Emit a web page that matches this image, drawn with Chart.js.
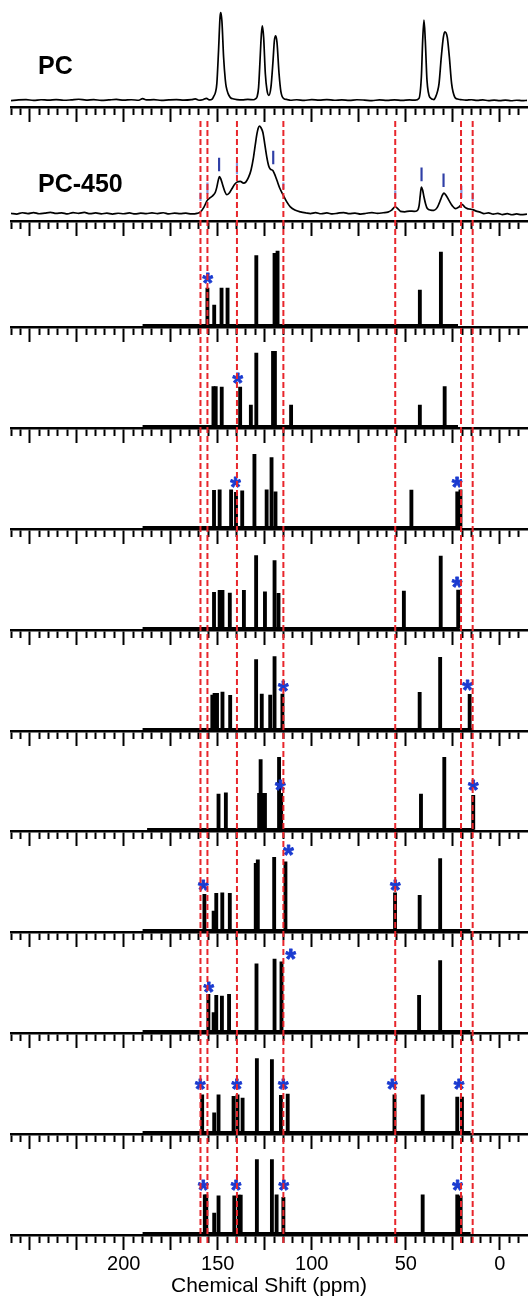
<!DOCTYPE html>
<html><head><meta charset="utf-8">
<script src="https://cdn.jsdelivr.net/npm/chart.js"></script>
<style>
html,body{margin:0;padding:0;background:#fff;}
#wrap{position:relative;width:530px;height:1299px;overflow:hidden;background:#fff;}
.panel{position:absolute;left:0;width:530px;}
.lbl{position:absolute;left:38px;font:bold 25px "Liberation Sans", Arial, sans-serif;line-height:25px;color:#000;white-space:nowrap;}
</style></head><body><div id="wrap"></div>
<script>
// ---------------- data ----------------
const ppmMin = -14.5, ppmMax = 260;
const minorStep = 5, majorStep = 25;
const tickLabels = [200, 150, 100, 50, 0];
const axisTitle = 'Chemical Shift (ppm)';
const panelNames = ['PC', 'PC-450'];

const pcPpm = [260,256,252,248,244,240,236,232,228,224,220,216,212,208,204,200,196,192,190,188,184,180,176,172,168,164,162,160,158,156,154.5,153,152.3,151.2,150.5,149.6,148.8,148.4,147.8,146.9,146,145.5,144.5,143.3,141.5,139.8,137,134,131,129.8,129.1,128.3,127.7,126.8,126.3,125.6,124.7,123.8,122.8,121.7,120.6,119.9,119.2,118.5,117.4,116.4,114.9,113,111.4,108,104,100,96,92,88,84,80,76,72,68,64,60,56,52,48,45,43,41.7,41,40.3,39.6,38.7,37.1,35,34.1,33,32.3,31.1,30,29.2,27.9,26.8,25.6,24,22.5,20.8,18,15,12,9,6,3,0,-3,-6,-9,-12,-14.5];
const pcInt = [7.0,7.6,7.9,7.2,7.8,7.4,8.0,7.3,7.7,8.3,7.5,7.9,7.2,7.6,8.1,7.4,7.8,7.3,9.0,7.6,7.9,7.2,7.7,8.0,7.4,7.9,8.6,7.3,7.8,9.2,7.6,8.5,10.7,15.5,24,57,91,95.7,87,50.7,28,20.7,14,10,8.6,8,7.6,8.1,7.8,9,10.7,20,40.7,74,82.3,70.7,34,17.3,12.3,20.7,47.3,67.3,72.3,65.7,34,15.7,9,8,7.3,7.8,7.2,7.9,7.4,8.0,7.3,7.7,7.2,7.8,7.5,7.0,7.6,7.2,7.7,7.1,7.6,7.4,9,30.7,67.3,88,67.3,27.3,10,8,10.7,17,24,50.7,70.7,76.3,70.7,50.7,24,10.7,8.5,8,7.4,7.8,7.2,7.6,7.0,7.5,6.9,7.4,6.8,7.3,6.9,7.2];

const pc450Ppm = [260,257,254,251,248,245,242,239,236,233,230,227,224,221,218,215,212,209,206,203,200,197,194,191,188,185,182,179,176,173,170,167,164,161,159.2,157.5,155.6,154,152.5,151.3,150.5,149.7,149.1,148.3,147.3,146.2,145.2,144,142.5,141,139.8,138,136.3,135,133.6,132.3,131,130,129.2,128.5,127.8,127,126,125,123.9,122.9,122.1,120.7,119.5,118.5,117,115.1,113.2,111.4,109,106,103,100.7,98,95,92,89,86,83,80,77,74,71,68,65,62,59.5,57.5,55.6,54,52.8,50.5,48,45.5,43.9,42.9,42.3,41.7,41.0,40.3,39.4,38.5,36.8,35,33.3,32.2,31.4,30.5,29.7,28.6,27,25.3,23.5,21.8,20.1,18.6,17.2,15.8,14.4,12.5,10.5,8.4,6,3.5,1,-1.5,-4,-6.5,-9,-11.5,-14.5];
const pc450Int = [8.3,7.5,8.8,8.0,9.0,7.8,8.5,9.2,8.1,8.7,7.6,8.9,8.2,9.1,7.9,8.6,7.7,8.4,7.5,8.3,7.8,8.6,7.6,8.4,7.9,8.7,8.0,8.8,7.7,8.5,7.9,8.4,7.6,8.2,9.7,14,21.3,24,26.3,29.5,34.7,42,45.3,42.5,36.3,30,27,28.5,33,37.5,39.7,40.5,38.7,40,44.7,52,64.7,78,88,94,96.3,94.5,89.7,78,64.7,56,53,51.3,46.5,41.3,33.5,26.3,19.5,14.7,11.5,9.7,8.6,8.0,8.9,7.8,8.6,7.6,8.4,9.0,7.9,8.5,7.5,8.3,9.0,8.2,8.8,9.4,11.5,14.7,12.5,10.2,9.8,10.5,10.3,11,16,26,34.7,31.5,24.7,17.5,13,11.5,11.3,14,18.5,22.3,26.5,28.7,26.5,21.3,16,13,14.5,17.3,14.5,13,12.5,12,10.5,9.5,8.0,8.7,7.4,8.2,7.0,7.9,6.8,7.6,6.9,7.5];

// peak markers on PC-450
const markPpm = [149.3, 120.5, 41.6, 29.9];
const markLow = [51, 58, 41, 35];
const markHigh = [64, 71, 54, 48];
const faintPpm = [159.2, 155.5, 139.8, 115.1, 55.6, 20.4, 14.4];
const faintLow = [21, 28, 48, 33, 24, 24, 21];
const faintHigh = [29, 39, 59, 39, 31, 36, 29];

// reference (dashed) lines
const refPpm = [159.2, 155.5, 139.8, 115.1, 55.6, 20.6, 14.4];

// stick spectra (ppm, height) + asterisk marks + baseline extent
const stick3Ppm = [155.5, 151.9, 148.0, 144.8, 129.5, 119.8, 118.2, 42.5, 31.3];
const stick3H   = [38, 20.7, 38, 38, 71, 73.3, 75.7, 36, 74.7];
const star3Ppm = [155.2]; const star3H = [48];
const base3 = [190, 22.2];

const stick4Ppm = [152.3, 151.1, 147.9, 138.1, 132.4, 129.5, 120.6, 119.6, 111.0, 42.5, 29.3];
const stick4H   = [40.7, 40.7, 40, 40, 21.7, 74.7, 76.3, 76.3, 21.7, 21.7, 40.7];
const star4Ppm = [139.3]; const star4H = [49];
const base4 = [190, 22.2];

const stick5Ppm = [152.0, 149.0, 142.9, 140.3, 137.0, 130.5, 124.0, 121.4, 119.3, 47.0, 22.6, 20.9];
const stick5H   = [37.7, 38.3, 38.3, 35.7, 37.3, 74.3, 38.3, 71, 36.3, 38, 36.3, 38.3];
const star5Ppm = [140.5, 22.6]; const star5H = [46, 46];
const base5 = [190, 20.5];

const stick6Ppm = [152.0, 149.0, 147.5, 143.6, 136.1, 129.6, 124.9, 119.8, 117.7, 51.0, 31.4, 22.1];
const stick6H   = [36.7, 38.7, 38.7, 36, 38.7, 74, 37.3, 69, 35.7, 38, 73.7, 39];
const star6Ppm = [22.6]; const star6H = [47];
const base6 = [190, 21.6];

const stick7Ppm = [152.9, 151.7, 150.4, 147.5, 143.4, 129.6, 126.6, 122.1, 119.8, 115.6, 42.6, 31.7, 16.0];
const stick7H   = [35, 36.7, 36.7, 38, 34.7, 71, 36, 35, 74, 36, 37.7, 73.3, 35.7];
const star7Ppm = [115.0, 17.0]; const star7H = [44, 45];
const base7 = [190, 14.8];

const stick8Ppm = [149.6, 145.7, 128.0, 127.2, 125.9, 124.9, 117.4, 116.3, 41.9, 29.5, 14.1];
const stick8H   = [36, 37.3, 36.7, 71, 36.7, 36.7, 73.3, 36.7, 36, 73.3, 34.7];
const star8Ppm = [116.6, 13.9]; const star8H = [45, 45];
const base8 = [187.6, 13.7];

const stick9Ppm = [157.1, 152.2, 150.8, 147.6, 143.6, 129.8, 128.7, 120.0, 114.0, 55.7, 42.6, 31.7];
const stick9H   = [36.7, 19.7, 37.7, 38.3, 37.7, 68.3, 71.7, 74.3, 69.7, 38.3, 35.7, 73];
const star9Ppm = [157.6, 112.3, 55.4]; const star9H = [46, 81, 46];
const base9 = [190, 15.6];

const stick10Ppm = [155.0, 152.2, 150.8, 147.8, 144.0, 129.4, 119.8, 116.1, 42.9, 31.7];
const stick10H   = [37.7, 19.3, 36.7, 36, 37.7, 68.7, 73.7, 70.7, 36.7, 72];
const star10Ppm = [154.7, 111.1]; const star10H = [45, 78];
const base10 = [190, 15.6];

const stick11Ppm = [158.3, 151.9, 149.6, 141.6, 139.5, 136.8, 129.2, 121.2, 116.4, 112.8, 56.0, 41.0, 22.6, 20.1];
const stick11H   = [38.3, 20, 38.3, 36.7, 38.3, 35, 75, 74, 37.7, 39, 38.3, 38.3, 36, 36];
const star11Ppm = [159.2, 139.8, 115.1, 57.0, 21.5]; const star11H = [49, 49, 49, 49, 49];
const base11 = [190, 15.5];

const stick12Ppm = [156.9, 156.1, 151.9, 149.6, 141.2, 138.8, 137.8, 129.2, 121.2, 118.7, 115.1, 41.0, 22.6, 20.8];
const stick12H   = [39.3, 39.3, 20.7, 38.3, 38.3, 39, 39, 75, 75, 39.3, 36.7, 39.3, 39.3, 38.3];
const star12Ppm = [157.6, 140.2, 114.8, 22.4]; const star12H = [49, 49, 49, 49];
const base12 = [190, 15.5];

// ---------------- rendering ----------------
const W = 530;
const FONT = '"Liberation Sans", Arial, sans-serif';
const STAR_COLOR = '#1b3bd0';
const RED = '#e8262c';
const wrap = document.getElementById('wrap');

function xScale(showLabels) {
  return {
    type: 'linear', min: ppmMin, max: ppmMax, reverse: true, offset: false,
    border: {display: true, color: '#000', width: 2.5},
    grid: {
      display: true, offset: false, drawOnChartArea: false, drawTicks: true,
      tickLength: 14.5, tickWidth: 2, tickColor: '#000',
      tickBorderDash: (c) => (c.tick && Math.abs(c.tick.value % majorStep) < 1e-6) ? [] : [6.5, 40]
    },
    ticks: {
      stepSize: minorStep, autoSkip: false, maxRotation: 0, minRotation: 0,
      includeBounds: false, maxTicksLimit: 200, display: showLabels, padding: 2,
      color: '#000', font: {family: FONT, size: 20},
      callback: (v) => tickLabels.includes(v) ? String(v) : ''
    },
    title: {display: showLabels, text: axisTitle, color: '#000',
      font: {family: FONT, size: 21, lineHeight: 1}, padding: {top: -2, bottom: 0}}
  };
}

function makeChart(axisY, canvasH, yMin, datasets, showLabels, starPpm, starH) {
  const div = document.createElement('div');
  div.className = 'panel';
  div.style.height = canvasH + 'px';
  const cv = document.createElement('canvas');
  cv.width = W; cv.height = canvasH;
  cv.style.width = W + 'px'; cv.style.height = canvasH + 'px';
  div.appendChild(cv); wrap.appendChild(div);
  const plugins = [];
  if (starPpm) {
    plugins.push({
      id: 'stars',
      afterDatasetsDraw(chart) {
        const ctx = chart.ctx, xs = chart.scales.x, ys = chart.scales.y;
        const size = 27;
        ctx.save();
        ctx.fillStyle = STAR_COLOR;
        ctx.strokeStyle = STAR_COLOR;
        ctx.lineWidth = 0.8;
        ctx.lineJoin = 'round';
        ctx.font = 'bold ' + size + 'px ' + FONT;
        ctx.textAlign = 'left';
        ctx.textBaseline = 'alphabetic';
        const m = ctx.measureText('*');
        const asc = m.actualBoundingBoxAscent, desc = m.actualBoundingBoxDescent;
        const lft = m.actualBoundingBoxLeft, rgt = m.actualBoundingBoxRight;
        starPpm.forEach((p, i) => {
          const cx = xs.getPixelForValue(p), cy = ys.getPixelForValue(starH[i]);
          const bx = cx - (rgt - lft) / 2;
          const by = cy + (asc - desc) / 2;
          ctx.fillText('*', bx, by);
          ctx.strokeText('*', bx, by);
        });
        ctx.restore();
      }
    });
  }
  const chart = new Chart(cv, {
    type: 'line',
    data: {datasets},
    options: {
      responsive: false, animation: false, devicePixelRatio: 1, events: [],
      layout: {padding: {left: 11, right: 3, top: 0, bottom: 0}},
      plugins: {legend: {display: false}, tooltip: {enabled: false}},
      scales: {x: xScale(showLabels), y: {type: 'linear', display: false, min: yMin, max: yMin + 100}}
    },
    plugins
  });
  const area = chart.chartArea;
  chart.options.scales.y.max = yMin + (area.bottom - area.top);
  chart.update('none');
  div.style.top = (axisY - chart.chartArea.bottom) + 'px';
  return chart;
}

function lineDs(xs, ys, width) {
  return {type: 'line', data: xs.map((p, i) => ({x: p, y: ys[i]})), borderColor: '#000',
    borderWidth: width, pointRadius: 0, fill: false, cubicInterpolationMode: 'monotone'};
}
function rangeBars(xs, lo, hi, color, w) {
  return {type: 'bar', data: xs.map((p, i) => ({x: p, y: [lo[i], hi[i]]})), backgroundColor: color,
    borderWidth: 0, barThickness: w, grouped: false};
}

// Panel 1: PC
makeChart(107, 124, 0, [lineDs(pcPpm, pcInt, 1.7)], false);
// Panel 2: PC-450
makeChart(221, 118, 0, [
  rangeBars(faintPpm, faintLow, faintHigh, '#8795dc', 1.5),
  rangeBars(markPpm, markLow, markHigh, '#2f3fa6', 1.5),
  lineDs(pc450Ppm, pc450Int, 1.7)
], false);

const stickPanels = [
  [stick3Ppm, stick3H, star3Ppm, star3H, base3],
  [stick4Ppm, stick4H, star4Ppm, star4H, base4],
  [stick5Ppm, stick5H, star5Ppm, star5H, base5],
  [stick6Ppm, stick6H, star6Ppm, star6H, base6],
  [stick7Ppm, stick7H, star7Ppm, star7H, base7],
  [stick8Ppm, stick8H, star8Ppm, star8H, base8],
  [stick9Ppm, stick9H, star9Ppm, star9H, base9],
  [stick10Ppm, stick10H, star10Ppm, star10H, base10],
  [stick11Ppm, stick11H, star11Ppm, star11H, base11],
  [stick12Ppm, stick12H, star12Ppm, star12H, base12]
];
const stickAxisY = [327, 428, 529, 630, 731, 831, 932, 1033, 1134, 1235];

stickPanels.forEach((sp, k) => {
  const [ppm, h, sPpm, sH, base] = sp;
  const last = k === stickPanels.length - 1;
  makeChart(stickAxisY[k], last ? 178 : 112, -2, [
    {type: 'bar', data: ppm.map((p, i) => ({x: p, y: h[i]})), backgroundColor: '#000',
      borderWidth: 0, barThickness: 3.2, grouped: false},
    {type: 'line', data: [{x: base[0], y: 0}, {x: base[1], y: 0}], borderColor: '#000',
      borderWidth: 3, pointRadius: 0, fill: false}
  ], last, sPpm, sH);
});

// Overlay: dashed reference lines across the panels
(function () {
  const top = 121, h = 1122;
  const div = document.createElement('div');
  div.className = 'panel';
  div.style.top = top + 'px'; div.style.height = h + 'px';
  const cv = document.createElement('canvas');
  cv.width = W; cv.height = h; cv.style.width = W + 'px'; cv.style.height = h + 'px';
  div.appendChild(cv); wrap.appendChild(div);
  new Chart(cv, {
    type: 'line',
    data: {datasets: refPpm.map(p => ({data: [{x: p, y: 0}, {x: p, y: 1}], borderColor: RED,
      borderWidth: 2, borderDash: [6, 3], pointRadius: 0, fill: false}))},
    options: {
      responsive: false, animation: false, devicePixelRatio: 1, events: [],
      layout: {padding: {left: 11, right: 3, top: 0, bottom: 0}},
      plugins: {legend: {display: false}, tooltip: {enabled: false}},
      scales: {
        x: {type: 'linear', min: ppmMin, max: ppmMax, reverse: true, display: false},
        y: {type: 'linear', min: 0, max: 1, display: false}
      }
    }
  });
})();

// Panel labels
[[panelNames[0], 53], [panelNames[1], 171]].forEach(([t, y]) => {
  const d = document.createElement('div');
  d.className = 'lbl'; d.style.top = y + 'px'; d.textContent = t;
  wrap.appendChild(d);
});
</script></body></html>
